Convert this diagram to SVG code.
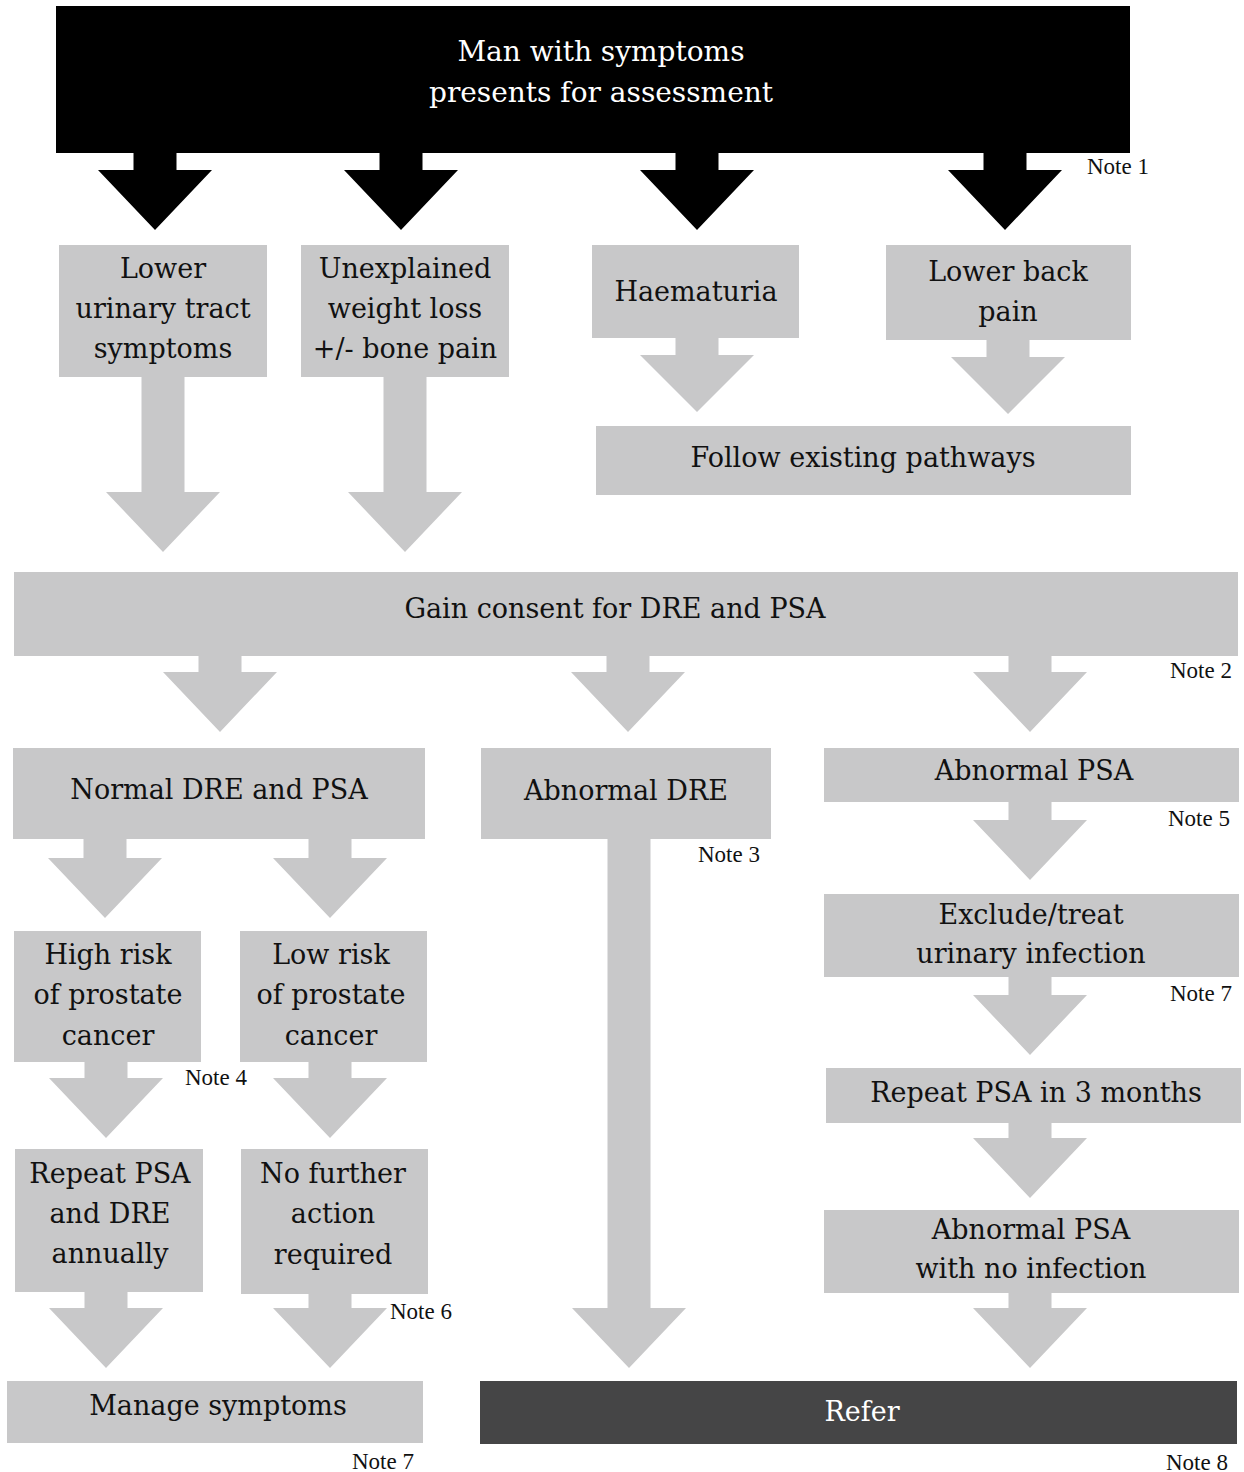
<svg xmlns="http://www.w3.org/2000/svg" width="1244" height="1472" viewBox="0 0 1244 1472">
<style>
.box{fill:#c8c8c9}
.blk{fill:#000}
.dark{fill:#454546}
.t{font-family:"DejaVu Serif","Liberation Serif",serif;font-size:27px;fill:#111;text-anchor:middle;dominant-baseline:central}
.tw{font-family:"DejaVu Serif","Liberation Serif",serif;font-size:27px;fill:#fff;text-anchor:middle;dominant-baseline:central}
.tt{font-family:"DejaVu Serif","Liberation Serif",serif;font-size:28px;fill:#fff;text-anchor:middle;dominant-baseline:central}
.n{font-family:"Liberation Serif",serif;font-size:23px;fill:#111;text-anchor:start;dominant-baseline:central}
.ag{fill:#c8c8c9}
.ab{fill:#000}
</style>
<rect width="1244" height="1472" fill="#fff"/>
<g id="connectors">
<path class="ab" d="M133.5,150 H176.5 V170 H212 L155,230 L98,170 H133.5 Z"/>
<path class="ab" d="M379.5,150 H422.5 V170 H458 L401,230 L344,170 H379.5 Z"/>
<path class="ab" d="M675.5,150 H718.5 V170 H754 L697,230 L640,170 H675.5 Z"/>
<path class="ab" d="M983.5,150 H1026.5 V170 H1062 L1005,230 L948,170 H983.5 Z"/>
<path class="ag" d="M675.5,336 H718.5 V355 H754 L697,412 L640,355 H675.5 Z"/>
<path class="ag" d="M986.5,338 H1029.5 V357 H1065 L1008,414 L951,357 H986.5 Z"/>
<path class="ag" d="M141.5,375 H184.5 V492 H220 L163,552 L106,492 H141.5 Z"/>
<path class="ag" d="M383.5,375 H426.5 V492 H462 L405,552 L348,492 H383.5 Z"/>
<path class="ag" d="M198.5,654 H241.5 V672 H277 L220,732 L163,672 H198.5 Z"/>
<path class="ag" d="M606.5,654 H649.5 V672 H685 L628,732 L571,672 H606.5 Z"/>
<path class="ag" d="M1008.5,654 H1051.5 V672 H1087 L1030,732 L973,672 H1008.5 Z"/>
<path class="ag" d="M83.5,837 H126.5 V858 H162 L105,918 L48,858 H83.5 Z"/>
<path class="ag" d="M308.5,837 H351.5 V858 H387 L330,918 L273,858 H308.5 Z"/>
<path class="ag" d="M607.5,837 H650.5 V1308 H686 L629,1368 L572,1308 H607.5 Z"/>
<path class="ag" d="M1008.5,800 H1051.5 V820 H1087 L1030,880 L973,820 H1008.5 Z"/>
<path class="ag" d="M1008.5,975 H1051.5 V995 H1087 L1030,1055 L973,995 H1008.5 Z"/>
<path class="ag" d="M1008.5,1121 H1051.5 V1138 H1087 L1030,1198 L973,1138 H1008.5 Z"/>
<path class="ag" d="M1008.5,1291 H1051.5 V1308 H1087 L1030,1368 L973,1308 H1008.5 Z"/>
<path class="ag" d="M84.5,1060 H127.5 V1078 H163 L106,1138 L49,1078 H84.5 Z"/>
<path class="ag" d="M308.5,1060 H351.5 V1078 H387 L330,1138 L273,1078 H308.5 Z"/>
<path class="ag" d="M84.5,1290 H127.5 V1308 H163 L106,1368 L49,1308 H84.5 Z"/>
<path class="ag" d="M308.5,1292 H351.5 V1308 H387 L330,1368 L273,1308 H308.5 Z"/>
</g>
<g id="start">
<rect class="blk" x="56" y="6" width="1074" height="147"/>
<text class="tt" x="601" y="51">Man with symptoms</text>
<text class="tt" x="601" y="92">presents for assessment</text>
<text class="n" x="1087" y="166">Note 1</text>
</g>
<g id="luts">
<rect class="box" x="59" y="245" width="208" height="132"/>
<text class="t" x="163" y="268">Lower</text>
<text class="t" x="163" y="308">urinary tract</text>
<text class="t" x="163" y="348">symptoms</text>
</g>
<g id="weightloss">
<rect class="box" x="301" y="245" width="208" height="132"/>
<text class="t" x="405" y="268">Unexplained</text>
<text class="t" x="405" y="308">weight loss</text>
<text class="t" x="405" y="348">+/- bone pain</text>
</g>
<g id="haematuria">
<rect class="box" x="592" y="245" width="207" height="93"/>
<text class="t" x="696" y="291">Haematuria</text>
</g>
<g id="backpain">
<rect class="box" x="886" y="245" width="245" height="95"/>
<text class="t" x="1008" y="271">Lower back</text>
<text class="t" x="1008" y="311">pain</text>
</g>
<g id="existing">
<rect class="box" x="596" y="426" width="535" height="69"/>
<text class="t" x="863" y="457">Follow existing pathways</text>
</g>
<g id="consent">
<rect class="box" x="14" y="572" width="1224" height="84"/>
<text class="t" x="615" y="608">Gain consent for DRE and PSA</text>
<text class="n" x="1170" y="670">Note 2</text>
</g>
<g id="normal">
<rect class="box" x="13" y="748" width="412" height="91"/>
<text class="t" x="219" y="789">Normal DRE and PSA</text>
</g>
<g id="abndre">
<rect class="box" x="481" y="748" width="290" height="91"/>
<text class="t" x="626" y="790">Abnormal DRE</text>
<text class="n" x="698" y="854">Note 3</text>
</g>
<g id="abnpsa">
<rect class="box" x="824" y="748" width="415" height="54"/>
<text class="t" x="1034" y="770">Abnormal PSA</text>
<text class="n" x="1168" y="818">Note 5</text>
</g>
<g id="highrisk">
<rect class="box" x="14" y="931" width="187" height="131"/>
<text class="t" x="108" y="954">High risk</text>
<text class="t" x="108" y="994">of prostate</text>
<text class="t" x="108" y="1035">cancer</text>
<text class="n" x="185" y="1077">Note 4</text>
</g>
<g id="lowrisk">
<rect class="box" x="240" y="931" width="187" height="131"/>
<text class="t" x="331" y="954">Low risk</text>
<text class="t" x="331" y="994">of prostate</text>
<text class="t" x="331" y="1035">cancer</text>
</g>
<g id="exclude">
<rect class="box" x="824" y="894" width="415" height="83"/>
<text class="t" x="1031" y="914">Exclude/treat</text>
<text class="t" x="1031" y="953">urinary infection</text>
<text class="n" x="1170" y="993">Note 7</text>
</g>
<g id="repeat3">
<rect class="box" x="826" y="1068" width="415" height="55"/>
<text class="t" x="1036" y="1092">Repeat PSA in 3 months</text>
</g>
<g id="abnnoinf">
<rect class="box" x="824" y="1210" width="415" height="83"/>
<text class="t" x="1031" y="1229">Abnormal PSA</text>
<text class="t" x="1031" y="1268">with no infection</text>
</g>
<g id="annual">
<rect class="box" x="15" y="1149" width="188" height="143"/>
<text class="t" x="110" y="1173">Repeat PSA</text>
<text class="t" x="110" y="1213">and DRE</text>
<text class="t" x="110" y="1253">annually</text>
</g>
<g id="nofurther">
<rect class="box" x="241" y="1149" width="187" height="145"/>
<text class="t" x="333" y="1173">No further</text>
<text class="t" x="333" y="1213">action</text>
<text class="t" x="333" y="1254">required</text>
<text class="n" x="390" y="1311">Note 6</text>
</g>
<g id="manage">
<rect class="box" x="7" y="1381" width="416" height="62"/>
<text class="t" x="218" y="1405">Manage symptoms</text>
<text class="n" x="352" y="1461">Note 7</text>
</g>
<g id="refer">
<rect class="dark" x="480" y="1381" width="757" height="63"/>
<text class="tw" x="862" y="1411">Refer</text>
<text class="n" x="1166" y="1462">Note 8</text>
</g>
</svg>
